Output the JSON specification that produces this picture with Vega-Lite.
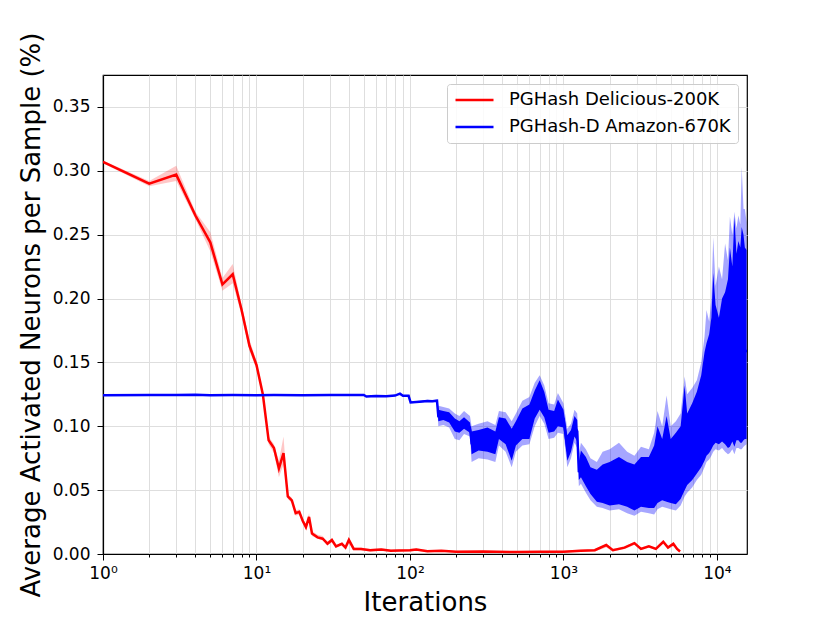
{
  "$schema": "https://vega.github.io/schema/vega-lite/v6.json",
  "width": 644,
  "height": 479,
  "autosize": {"type": "none"},
  "padding": {"left": 103, "top": 75, "right": 83, "bottom": 69},
  "background": "white",
  "config": {
    "font": "DejaVu Sans",
    "view": {"stroke": "black", "strokeWidth": 1.2},
    "axis": {
      "domainColor": "black",
      "domainWidth": 1.2,
      "tickColor": "black",
      "tickWidth": 1,
      "labelColor": "black",
      "labelFont": "DejaVu Sans",
      "labelFontSize": 17,
      "titleFont": "DejaVu Sans",
      "titleFontSize": 26,
      "titleFontWeight": "normal",
      "titleColor": "black",
      "gridColor": "#dedede",
      "gridWidth": 1
    }
  },
  "datasets": {
    "delicious": [
      {"it": 1, "m": 0.307, "lo": 0.306, "hi": 0.308},
      {"it": 2, "m": 0.290, "lo": 0.288, "hi": 0.292},
      {"it": 3, "m": 0.297, "lo": 0.292, "hi": 0.304},
      {"it": 4, "m": 0.265, "lo": 0.262, "hi": 0.268},
      {"it": 5, "m": 0.244, "lo": 0.237, "hi": 0.252},
      {"it": 6, "m": 0.211, "lo": 0.206, "hi": 0.216},
      {"it": 7, "m": 0.219, "lo": 0.212, "hi": 0.227},
      {"it": 8, "m": 0.191, "lo": 0.187, "hi": 0.195},
      {"it": 9, "m": 0.163, "lo": 0.159, "hi": 0.168},
      {"it": 10, "m": 0.148, "lo": 0.145, "hi": 0.151},
      {"it": 11, "m": 0.125, "lo": 0.123, "hi": 0.127},
      {"it": 12, "m": 0.089, "lo": 0.086, "hi": 0.092},
      {"it": 13, "m": 0.083, "lo": 0.079, "hi": 0.086},
      {"it": 14, "m": 0.067, "lo": 0.060, "hi": 0.073},
      {"it": 15, "m": 0.079, "lo": 0.070, "hi": 0.092},
      {"it": 16, "m": 0.045, "lo": 0.043, "hi": 0.047},
      {"it": 17, "m": 0.042, "lo": 0.040, "hi": 0.044},
      {"it": 18, "m": 0.032, "lo": 0.030, "hi": 0.034},
      {"it": 19, "m": 0.033, "lo": 0.031, "hi": 0.035},
      {"it": 20, "m": 0.026, "lo": 0.024, "hi": 0.028},
      {"it": 21, "m": 0.021, "lo": 0.019, "hi": 0.023},
      {"it": 22, "m": 0.029, "lo": 0.026, "hi": 0.032},
      {"it": 23, "m": 0.016, "lo": 0.014, "hi": 0.018},
      {"it": 25, "m": 0.013, "lo": 0.012, "hi": 0.015},
      {"it": 27, "m": 0.012, "lo": 0.011, "hi": 0.014},
      {"it": 28, "m": 0.010, "lo": 0.009, "hi": 0.011},
      {"it": 29, "m": 0.008, "lo": 0.007, "hi": 0.010},
      {"it": 31, "m": 0.011, "lo": 0.009, "hi": 0.012},
      {"it": 33, "m": 0.006, "lo": 0.005, "hi": 0.007},
      {"it": 36, "m": 0.008, "lo": 0.007, "hi": 0.009},
      {"it": 38, "m": 0.005, "lo": 0.004, "hi": 0.006},
      {"it": 40, "m": 0.011, "lo": 0.008, "hi": 0.013},
      {"it": 43, "m": 0.004, "lo": 0.003, "hi": 0.005},
      {"it": 48, "m": 0.004, "lo": 0.003, "hi": 0.005},
      {"it": 55, "m": 0.003, "lo": 0.002, "hi": 0.004},
      {"it": 65, "m": 0.0035, "lo": 0.0025, "hi": 0.0045},
      {"it": 75, "m": 0.0025, "lo": 0.002, "hi": 0.0035},
      {"it": 85, "m": 0.0028, "lo": 0.002, "hi": 0.0035},
      {"it": 100, "m": 0.003, "lo": 0.002, "hi": 0.004},
      {"it": 110, "m": 0.0035, "lo": 0.0025, "hi": 0.0045},
      {"it": 130, "m": 0.0022, "lo": 0.0015, "hi": 0.003},
      {"it": 160, "m": 0.0025, "lo": 0.0018, "hi": 0.0032},
      {"it": 200, "m": 0.0018, "lo": 0.0012, "hi": 0.0025},
      {"it": 300, "m": 0.002, "lo": 0.0014, "hi": 0.0026},
      {"it": 500, "m": 0.0015, "lo": 0.001, "hi": 0.002},
      {"it": 700, "m": 0.0018, "lo": 0.0012, "hi": 0.0024},
      {"it": 1000, "m": 0.0018, "lo": 0.0012, "hi": 0.0025},
      {"it": 1300, "m": 0.0025, "lo": 0.0018, "hi": 0.0035},
      {"it": 1600, "m": 0.003, "lo": 0.002, "hi": 0.004},
      {"it": 1900, "m": 0.007, "lo": 0.005, "hi": 0.008},
      {"it": 2100, "m": 0.003, "lo": 0.002, "hi": 0.004},
      {"it": 2500, "m": 0.005, "lo": 0.004, "hi": 0.006},
      {"it": 2900, "m": 0.0085, "lo": 0.007, "hi": 0.0095},
      {"it": 3200, "m": 0.004, "lo": 0.003, "hi": 0.005},
      {"it": 3600, "m": 0.006, "lo": 0.005, "hi": 0.007},
      {"it": 4000, "m": 0.004, "lo": 0.003, "hi": 0.005},
      {"it": 4470, "m": 0.0096, "lo": 0.008, "hi": 0.011},
      {"it": 4800, "m": 0.005, "lo": 0.004, "hi": 0.006},
      {"it": 5200, "m": 0.008, "lo": 0.006, "hi": 0.009},
      {"it": 5500, "m": 0.004, "lo": 0.003, "hi": 0.005},
      {"it": 5750, "m": 0.002, "lo": 0.0015, "hi": 0.0025}
    ],
    "amazon": [
      {"it": 1, "lo": 0.1242, "mlo": 0.1242, "m": 0.1242, "mhi": 0.1242, "hi": 0.1242},
      {"it": 2, "lo": 0.1244, "mlo": 0.1244, "m": 0.1244, "mhi": 0.1244, "hi": 0.1244},
      {"it": 3, "lo": 0.1244, "mlo": 0.1244, "m": 0.1244, "mhi": 0.1244, "hi": 0.1244},
      {"it": 4, "lo": 0.1246, "mlo": 0.1246, "m": 0.1246, "mhi": 0.1246, "hi": 0.1246},
      {"it": 5, "lo": 0.1243, "mlo": 0.1243, "m": 0.1243, "mhi": 0.1243, "hi": 0.1243},
      {"it": 7, "lo": 0.1244, "mlo": 0.1244, "m": 0.1244, "mhi": 0.1244, "hi": 0.1244},
      {"it": 10, "lo": 0.1243, "mlo": 0.1243, "m": 0.1243, "mhi": 0.1243, "hi": 0.1243},
      {"it": 13, "lo": 0.1244, "mlo": 0.1244, "m": 0.1244, "mhi": 0.1244, "hi": 0.1244},
      {"it": 20, "lo": 0.1243, "mlo": 0.1243, "m": 0.1243, "mhi": 0.1243, "hi": 0.1243},
      {"it": 30, "lo": 0.1245, "mlo": 0.1245, "m": 0.1245, "mhi": 0.1245, "hi": 0.1245},
      {"it": 40, "lo": 0.1244, "mlo": 0.1244, "m": 0.1244, "mhi": 0.1244, "hi": 0.1244},
      {"it": 50, "lo": 0.1245, "mlo": 0.1245, "m": 0.1245, "mhi": 0.1245, "hi": 0.1245},
      {"it": 52, "lo": 0.1233, "mlo": 0.1233, "m": 0.1233, "mhi": 0.1233, "hi": 0.1233},
      {"it": 60, "lo": 0.1237, "mlo": 0.1237, "m": 0.1237, "mhi": 0.1237, "hi": 0.1237},
      {"it": 70, "lo": 0.1235, "mlo": 0.1235, "m": 0.1235, "mhi": 0.1235, "hi": 0.1235},
      {"it": 80, "lo": 0.1240, "mlo": 0.1240, "m": 0.1240, "mhi": 0.1240, "hi": 0.1240},
      {"it": 86, "lo": 0.1250, "mlo": 0.1250, "m": 0.1255, "mhi": 0.1258, "hi": 0.1260},
      {"it": 90, "lo": 0.1238, "mlo": 0.1238, "m": 0.1238, "mhi": 0.1238, "hi": 0.1238},
      {"it": 98, "lo": 0.1238, "mlo": 0.1238, "m": 0.1238, "mhi": 0.1238, "hi": 0.1238},
      {"it": 101, "lo": 0.1180, "mlo": 0.1183, "m": 0.1186, "mhi": 0.1189, "hi": 0.1192},
      {"it": 115, "lo": 0.1185, "mlo": 0.1188, "m": 0.1192, "mhi": 0.1196, "hi": 0.1200},
      {"it": 130, "lo": 0.1190, "mlo": 0.1193, "m": 0.1198, "mhi": 0.1203, "hi": 0.1207},
      {"it": 140, "lo": 0.1188, "mlo": 0.1191, "m": 0.1195, "mhi": 0.1199, "hi": 0.1203},
      {"it": 150, "lo": 0.1192, "mlo": 0.1195, "m": 0.1200, "mhi": 0.1205, "hi": 0.1210},
      {"it": 153, "lo": 0.1000, "mlo": 0.1040, "m": 0.1080, "mhi": 0.1130, "hi": 0.1160},
      {"it": 165, "lo": 0.1010, "mlo": 0.1050, "m": 0.1090, "mhi": 0.1120, "hi": 0.1150},
      {"it": 180, "lo": 0.0990, "mlo": 0.1030, "m": 0.1070, "mhi": 0.1110, "hi": 0.1140},
      {"it": 196, "lo": 0.0900, "mlo": 0.0960, "m": 0.1010, "mhi": 0.1060, "hi": 0.1100},
      {"it": 210, "lo": 0.0890, "mlo": 0.0950, "m": 0.1000, "mhi": 0.1040, "hi": 0.1080},
      {"it": 225, "lo": 0.0940, "mlo": 0.0980, "m": 0.1020, "mhi": 0.1070, "hi": 0.1120},
      {"it": 246, "lo": 0.0920, "mlo": 0.0950, "m": 0.0990, "mhi": 0.1030, "hi": 0.1080},
      {"it": 252, "lo": 0.0720, "mlo": 0.0780, "m": 0.0870, "mhi": 0.0960, "hi": 0.1000},
      {"it": 280, "lo": 0.0750, "mlo": 0.0810, "m": 0.0890, "mhi": 0.0970, "hi": 0.1020},
      {"it": 320, "lo": 0.0740, "mlo": 0.0800, "m": 0.0880, "mhi": 0.0990, "hi": 0.1040},
      {"it": 360, "lo": 0.0720, "mlo": 0.0780, "m": 0.0860, "mhi": 0.0960, "hi": 0.1010},
      {"it": 380, "lo": 0.0850, "mlo": 0.0900, "m": 0.0990, "mhi": 0.1070, "hi": 0.1120},
      {"it": 420, "lo": 0.0800, "mlo": 0.0860, "m": 0.0960, "mhi": 0.1060, "hi": 0.1110},
      {"it": 460, "lo": 0.0680, "mlo": 0.0730, "m": 0.0850, "mhi": 0.0980, "hi": 0.1040},
      {"it": 490, "lo": 0.0800, "mlo": 0.0850, "m": 0.0950, "mhi": 0.1040, "hi": 0.1100},
      {"it": 540, "lo": 0.0850, "mlo": 0.0900, "m": 0.1020, "mhi": 0.1140, "hi": 0.1200},
      {"it": 600, "lo": 0.0860, "mlo": 0.0900, "m": 0.1030, "mhi": 0.1170, "hi": 0.1230},
      {"it": 650, "lo": 0.1000, "mlo": 0.1060, "m": 0.1160, "mhi": 0.1280, "hi": 0.1340},
      {"it": 700, "lo": 0.1080, "mlo": 0.1130, "m": 0.1250, "mhi": 0.1360, "hi": 0.1400},
      {"it": 750, "lo": 0.1020, "mlo": 0.1070, "m": 0.1170, "mhi": 0.1270, "hi": 0.1320},
      {"it": 800, "lo": 0.0900, "mlo": 0.0950, "m": 0.1050, "mhi": 0.1130, "hi": 0.1180},
      {"it": 870, "lo": 0.0910, "mlo": 0.0960, "m": 0.1040, "mhi": 0.1120, "hi": 0.1170},
      {"it": 920, "lo": 0.0950, "mlo": 0.1000, "m": 0.1100, "mhi": 0.1210, "hi": 0.1260},
      {"it": 1000, "lo": 0.0940, "mlo": 0.0990, "m": 0.1060, "mhi": 0.1130, "hi": 0.1180},
      {"it": 1060, "lo": 0.0680, "mlo": 0.0730, "m": 0.0830, "mhi": 0.0930, "hi": 0.0980},
      {"it": 1120, "lo": 0.0750, "mlo": 0.0800, "m": 0.0880, "mhi": 0.0970, "hi": 0.1020},
      {"it": 1180, "lo": 0.0870, "mlo": 0.0920, "m": 0.1000, "mhi": 0.1080, "hi": 0.1130},
      {"it": 1230, "lo": 0.0830, "mlo": 0.0880, "m": 0.0960, "mhi": 0.1050, "hi": 0.1100},
      {"it": 1260, "lo": 0.0530, "mlo": 0.0580, "m": 0.0640, "mhi": 0.0720, "hi": 0.0780},
      {"it": 1300, "lo": 0.0550, "mlo": 0.0600, "m": 0.0700, "mhi": 0.0810, "hi": 0.0870},
      {"it": 1400, "lo": 0.0480, "mlo": 0.0530, "m": 0.0640, "mhi": 0.0760, "hi": 0.0820},
      {"it": 1500, "lo": 0.0420, "mlo": 0.0470, "m": 0.0570, "mhi": 0.0680, "hi": 0.0750},
      {"it": 1650, "lo": 0.0370, "mlo": 0.0410, "m": 0.0530, "mhi": 0.0660, "hi": 0.0720},
      {"it": 1800, "lo": 0.0360, "mlo": 0.0400, "m": 0.0540, "mhi": 0.0700, "hi": 0.0800},
      {"it": 2000, "lo": 0.0340, "mlo": 0.0380, "m": 0.0550, "mhi": 0.0720, "hi": 0.0820},
      {"it": 2300, "lo": 0.0350, "mlo": 0.0390, "m": 0.0570, "mhi": 0.0760, "hi": 0.0870},
      {"it": 2600, "lo": 0.0320, "mlo": 0.0370, "m": 0.0540, "mhi": 0.0720, "hi": 0.0800},
      {"it": 2900, "lo": 0.0300, "mlo": 0.0340, "m": 0.0520, "mhi": 0.0700, "hi": 0.0770},
      {"it": 3200, "lo": 0.0330, "mlo": 0.0370, "m": 0.0550, "mhi": 0.0760, "hi": 0.0840},
      {"it": 3600, "lo": 0.0320, "mlo": 0.0360, "m": 0.0560, "mhi": 0.0760, "hi": 0.0820},
      {"it": 3900, "lo": 0.0310, "mlo": 0.0360, "m": 0.0600, "mhi": 0.0850, "hi": 0.0950},
      {"it": 4100, "lo": 0.0350, "mlo": 0.0400, "m": 0.0700, "mhi": 0.1000, "hi": 0.1120},
      {"it": 4400, "lo": 0.0370, "mlo": 0.0420, "m": 0.0660, "mhi": 0.0900, "hi": 0.1000},
      {"it": 4700, "lo": 0.0360, "mlo": 0.0410, "m": 0.0700, "mhi": 0.1080, "hi": 0.1240},
      {"it": 5000, "lo": 0.0350, "mlo": 0.0400, "m": 0.0650, "mhi": 0.0900, "hi": 0.1000},
      {"it": 5400, "lo": 0.0340, "mlo": 0.0390, "m": 0.0640, "mhi": 0.0950, "hi": 0.1040},
      {"it": 5800, "lo": 0.0380, "mlo": 0.0430, "m": 0.0700, "mhi": 0.1000, "hi": 0.1100},
      {"it": 6160, "lo": 0.0450, "mlo": 0.0500, "m": 0.0850, "mhi": 0.1320, "hi": 0.1390},
      {"it": 6400, "lo": 0.0480, "mlo": 0.0540, "m": 0.0850, "mhi": 0.1100, "hi": 0.1250},
      {"it": 6900, "lo": 0.0520, "mlo": 0.0580, "m": 0.0880, "mhi": 0.1180, "hi": 0.1300},
      {"it": 7400, "lo": 0.0580, "mlo": 0.0630, "m": 0.0950, "mhi": 0.1270, "hi": 0.1360},
      {"it": 7900, "lo": 0.0620, "mlo": 0.0680, "m": 0.1050, "mhi": 0.1400, "hi": 0.1500},
      {"it": 8300, "lo": 0.0680, "mlo": 0.0730, "m": 0.1150, "mhi": 0.1580, "hi": 0.1700},
      {"it": 8550, "lo": 0.0720, "mlo": 0.0770, "m": 0.1200, "mhi": 0.1650, "hi": 0.1910},
      {"it": 8900, "lo": 0.0740, "mlo": 0.0790, "m": 0.1250, "mhi": 0.1720, "hi": 0.1820},
      {"it": 9200, "lo": 0.0770, "mlo": 0.0820, "m": 0.1300, "mhi": 0.1850, "hi": 0.2000},
      {"it": 9460, "lo": 0.0800, "mlo": 0.0850, "m": 0.1400, "mhi": 0.2200, "hi": 0.2480},
      {"it": 9800, "lo": 0.0820, "mlo": 0.0870, "m": 0.1400, "mhi": 0.1950, "hi": 0.2100},
      {"it": 10300, "lo": 0.0810, "mlo": 0.0860, "m": 0.1350, "mhi": 0.1850, "hi": 0.2250},
      {"it": 10800, "lo": 0.0830, "mlo": 0.0880, "m": 0.1400, "mhi": 0.2000, "hi": 0.2150},
      {"it": 11300, "lo": 0.0800, "mlo": 0.0860, "m": 0.1450, "mhi": 0.2050, "hi": 0.2430},
      {"it": 11800, "lo": 0.0780, "mlo": 0.0830, "m": 0.1450, "mhi": 0.2150, "hi": 0.2300},
      {"it": 12150, "lo": 0.0790, "mlo": 0.0840, "m": 0.1500, "mhi": 0.2400, "hi": 0.2640},
      {"it": 12600, "lo": 0.0820, "mlo": 0.0880, "m": 0.1500, "mhi": 0.2250, "hi": 0.2500},
      {"it": 13000, "lo": 0.0780, "mlo": 0.0840, "m": 0.1600, "mhi": 0.2640, "hi": 0.2680},
      {"it": 13400, "lo": 0.0830, "mlo": 0.0890, "m": 0.1600, "mhi": 0.2350, "hi": 0.2550},
      {"it": 13800, "lo": 0.0830, "mlo": 0.0890, "m": 0.1600, "mhi": 0.2450, "hi": 0.2650},
      {"it": 14200, "lo": 0.0820, "mlo": 0.0870, "m": 0.1600, "mhi": 0.2400, "hi": 0.2580},
      {"it": 14500, "lo": 0.0820, "mlo": 0.0870, "m": 0.1650, "mhi": 0.2560, "hi": 0.3030},
      {"it": 14900, "lo": 0.0840, "mlo": 0.0890, "m": 0.1600, "mhi": 0.2500, "hi": 0.2700},
      {"it": 15200, "lo": 0.0850, "mlo": 0.0900, "m": 0.1600, "mhi": 0.2400, "hi": 0.2700},
      {"it": 15600, "lo": 0.0860, "mlo": 0.0900, "m": 0.1580, "mhi": 0.2380, "hi": 0.2600}
    ]
  },
  "encoding": {
    "x": {
      "field": "it",
      "type": "quantitative",
      "title": "Iterations",
      "scale": {"type": "log", "domain": [1, 15700]},
      "axis": {
        "values": [1, 2, 3, 4, 5, 6, 7, 8, 9, 10, 20, 30, 40, 50, 60, 70, 80, 90, 100, 200, 300, 400, 500, 600, 700, 800, 900, 1000, 2000, 3000, 4000, 5000, 6000, 7000, 8000, 9000, 10000],
        "labelExpr": "datum.value == 1 ? '10⁰' : datum.value == 10 ? '10¹' : datum.value == 100 ? '10²' : datum.value == 1000 ? '10³' : datum.value == 10000 ? '10⁴' : ''",
        "labelOverlap": false,
        "labelFlush": false,
        "grid": true,
        "tickSize": {"condition": {"test": "datum.value == 1 || datum.value == 10 || datum.value == 100 || datum.value == 1000 || datum.value == 10000", "value": 6}, "value": 3},
        "labelPadding": 5,
        "titlePadding": 8
      }
    }
  },
  "layer": [
    {
      "data": {"name": "delicious"},
      "mark": {"type": "area", "color": "red", "opacity": 0.22, "clip": true},
      "encoding": {
        "y": {"field": "lo", "type": "quantitative", "title": "Average Activated Neurons per Sample (%)", "scale": {"domain": [0, 0.375]}},
        "y2": {"field": "hi"}
      }
    },
    {
      "data": {"name": "delicious"},
      "mark": {"type": "line", "strokeWidth": 2.5, "clip": true},
      "encoding": {
        "y": {
          "field": "m",
          "type": "quantitative",
          "title": "Average Activated Neurons per Sample (%)",
          "scale": {"domain": [0, 0.375]},
          "axis": {
            "values": [0, 0.05, 0.1, 0.15, 0.2, 0.25, 0.3, 0.35],
            "format": ".2f",
            "grid": true,
            "tickSize": 6,
            "labelPadding": 7,
            "titlePadding": 8
          }
        },
        "color": {
          "datum": "PGHash Delicious-200K",
          "type": "nominal",
          "scale": {"domain": ["PGHash Delicious-200K", "PGHash-D Amazon-670K"], "range": ["#ff0000", "#0000ff"]},
          "legend": {
            "title": null,
            "orient": "top-right",
            "offset": 9,
            "symbolType": "stroke",
            "symbolSize": 1444,
            "symbolStrokeWidth": 2.5,
            "clipHeight": 18,
            "labelFontSize": 18,
            "labelFont": "DejaVu Sans",
            "labelColor": "black",
            "labelLimit": 400,
            "labelOffset": 14,
            "strokeColor": "#cccccc",
            "fillColor": "rgba(255,255,255,0.85)",
            "cornerRadius": 3,
            "padding": 7,
            "rowPadding": 9
          }
        }
      }
    },
    {
      "data": {"name": "amazon"},
      "mark": {"type": "area", "color": "#0000ff", "opacity": 0.35, "clip": true},
      "encoding": {
        "y": {"field": "lo", "type": "quantitative", "title": "Average Activated Neurons per Sample (%)", "scale": {"domain": [0, 0.375]}},
        "y2": {"field": "hi"}
      }
    },
    {
      "data": {"name": "amazon"},
      "mark": {"type": "area", "color": "#0000ff", "opacity": 1, "clip": true},
      "encoding": {
        "y": {"field": "mlo", "type": "quantitative", "title": "Average Activated Neurons per Sample (%)", "scale": {"domain": [0, 0.375]}},
        "y2": {"field": "mhi"}
      }
    },
    {
      "data": {"name": "amazon"},
      "mark": {"type": "line", "strokeWidth": 2.5, "clip": true},
      "encoding": {
        "y": {"field": "m", "type": "quantitative", "title": "Average Activated Neurons per Sample (%)", "scale": {"domain": [0, 0.375]}},
        "color": {"datum": "PGHash-D Amazon-670K", "type": "nominal"}
      }
    }
  ]
}
